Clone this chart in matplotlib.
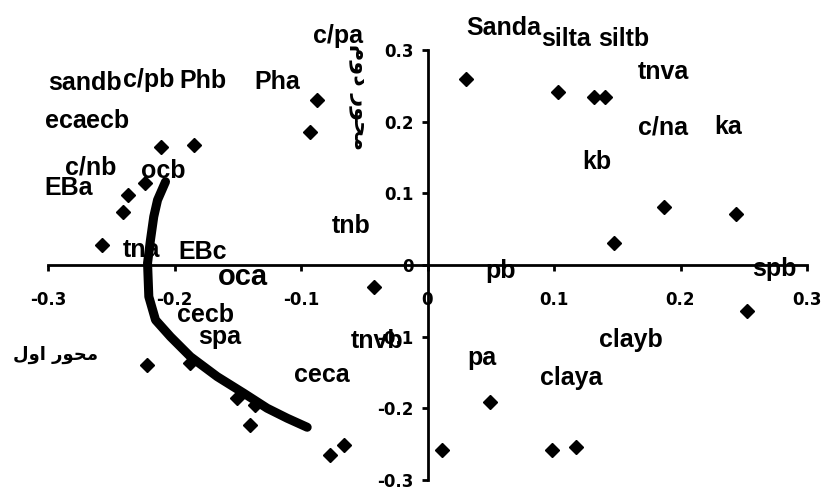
import matplotlib
matplotlib.use("Agg")
import matplotlib.pyplot as plt
from matplotlib import font_manager as fm

# scores on the two axes (diamonds)
pc1 = [-0.087, -0.0925, -0.1847, -0.211, -0.2235, -0.237, -0.2406, -0.257,
       -0.2216, -0.1874, -0.1504, -0.136, -0.1405, -0.0767, -0.0662, -0.0424,
       0.0308, 0.103, 0.1315, 0.140, 0.1868, 0.2435, 0.1473,
       0.2527, 0.0498, 0.0116, 0.0986, 0.1176]
pc2 = [0.230, 0.1855, 0.167, 0.164, 0.115, 0.0976, 0.0744, 0.028,
       -0.1395, -0.137, -0.186, -0.195, -0.223, -0.265, -0.251, -0.030,
       0.2594, 0.2409, 0.2339, 0.2339, 0.0813, 0.0711, 0.0303,
       -0.0637, -0.1906, -0.258, -0.258, -0.2543]

# hand drawn trend curve
curve_x = [-0.2071, -0.2134, -0.2164, -0.2190, -0.2213, -0.2203, -0.2150, -0.2032,
           -0.1874, -0.1662, -0.1452, -0.1267, -0.1109, -0.0951]
curve_y = [0.1162, 0.0907, 0.0674, 0.0349, 0.0028, -0.0442, -0.0767, -0.1000,
           -0.1279, -0.1558, -0.1789, -0.1999, -0.2138, -0.2264]

# data labels as they were placed on the chart
label_text = ["c/pa", "sandb", "c/pb", "Phb", "Pha", "eca", "ecb", "c/nb", "EBa", "ocb",
              "tnb", "tna", "EBc", "cecb", "spa", "ceca", "tnvb",
              "Sanda", "silta", "siltb", "tnva", "c/na", "ka", "kb",
              "pb", "spb", "clayb", "pa", "claya"]
label_x = [-0.0704, -0.2704, -0.2206, -0.1779, -0.1186, -0.2860, -0.2530, -0.2664, -0.2838, -0.2087,
           -0.0601, -0.2261, -0.1779, -0.1755, -0.1644, -0.0838, -0.0395,
           0.0601, 0.1099, 0.1549, 0.1866, 0.1858, 0.2379, 0.1336,
           0.0577, 0.2743, 0.1605, 0.0427, 0.1138]
label_y = [0.3194, 0.2538, 0.2580, 0.2566, 0.2552, 0.2008, 0.2008, 0.1367, 0.1074, 0.1311,
           0.0544, 0.0209, 0.0181, -0.0697, -0.1004, -0.1534, -0.1060,
           0.3305, 0.3152, 0.3152, 0.2692, 0.1925, 0.1925, 0.1437,
           -0.0084, -0.0056, -0.1046, -0.1297, -0.1576]

ticks = [-0.3, -0.2, -0.1, 0, 0.1, 0.2, 0.3]
tick_labels = ["-0.3", "-0.2", "-0.1", "0", "0.1", "0.2", "0.3"]

# Persian axis titles, written in presentation forms (visual order)
xlab = "\uFEDD\uFEED\uFE8D \uFEAD\uFEEE\uFEA4\uFEE3"   # محور اول
ylab = "\uFEE1\uFEED\uFEA9 \uFEAD\uFEEE\uFEA4\uFEE3"   # محور دوم

# narrow bold face if there is one, plain Liberation Sans otherwise
lab_font, lab_size = ["Liberation Sans", "DejaVu Sans"], 18
for fam in ["Liberation Sans Narrow", "Arial Narrow"]:
    try:
        fm.findfont(fm.FontProperties(family=fam, weight="bold"), fallback_to_default=False)
        lab_font, lab_size = [fam, "DejaVu Sans"], 21
        break
    except ValueError:
        pass

fig = plt.figure(figsize=(8.27, 4.92), dpi=100)
ax = fig.add_axes([48 / 827, 12 / 492, 759 / 827, 430 / 492])
ax.set_xlim(-0.3, 0.3)
ax.set_ylim(-0.3, 0.3)

for s in ["top", "right"]:
    ax.spines[s].set_visible(False)
ax.spines["left"].set_position(("data", 0))
ax.spines["bottom"].set_position(("data", 0))
ax.spines["left"].set_linewidth(2)
ax.spines["bottom"].set_linewidth(2)

ax.set_xticks(ticks)
ax.set_xticklabels(tick_labels)
ax.set_yticks(ticks)
ax.set_yticklabels(tick_labels)
ax.tick_params(axis="x", direction="out", length=4, width=2, pad=15)
ax.tick_params(axis="y", direction="out", length=4, width=2, pad=6)
for t in ax.get_xticklabels() + ax.get_yticklabels():
    t.set_fontweight("bold")
    t.set_fontsize(12)
    t.set_family("DejaVu Sans")

ax.plot(curve_x, curve_y, color="black", lw=6.5, solid_capstyle="round", zorder=4)
ax.plot(pc1, pc2, "D", color="black", markersize=7.2, zorder=5)

for t, x, y in zip(label_text, label_x, label_y):
    ax.text(x, y, t, family=lab_font, fontsize=lab_size, fontweight="bold",
            ha="center", va="center", clip_on=False, zorder=3)
# this one came out larger on the original
ax.text(-0.1462, -0.0167, "oca", family=lab_font, fontsize=lab_size + 3, fontweight="bold",
        ha="center", va="center", clip_on=False, zorder=3)

ax.text(-0.294, -0.1255, xlab, family="DejaVu Sans", fontsize=13, fontweight="bold",
        ha="center", va="center")
ax.text(-0.0545, 0.2343, ylab, family="DejaVu Sans", fontsize=16, fontweight="bold",
        rotation=-90, ha="center", va="center")

fig.savefig("out.png", dpi=100)
